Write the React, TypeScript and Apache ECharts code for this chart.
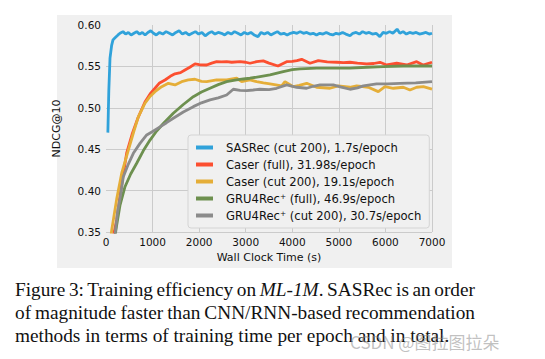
import React, { useEffect, useLayoutEffect, useRef } from "react";
import * as echarts from "echarts";

const seriesNames = [
  "SASRec (cut 200), 1.7s/epoch",
  "Caser (full), 31.98s/epoch",
  "Caser (cut 200), 19.1s/epoch",
  "GRU4Rec\u207A (full), 46.9s/epoch",
  "GRU4Rec\u207A (cut 200), 30.7s/epoch",
];
const colors = ["#30a2da", "#fc4f30", "#e5ae38", "#6d904f", "#8b8b8b"];

const xTicks = [0, 1000, 2000, 3000, 4000, 5000, 6000, 7000];
const yTicks = [0.35, 0.4, 0.45, 0.5, 0.55, 0.6];

const sasrec: number[][] = [
  [40, 0.47], [60, 0.52], [86, 0.56], [120, 0.575], [150, 0.582], [200, 0.585], [258, 0.588], [300, 0.59],
  [365, 0.592], [420, 0.589], [480, 0.591], [540, 0.588], [600, 0.59], [660, 0.592], [720, 0.589], [780, 0.591],
  [840, 0.588], [900, 0.591], [960, 0.593], [1020, 0.59], [1080, 0.588], [1150, 0.591], [1220, 0.589], [1290, 0.592],
  [1360, 0.59], [1430, 0.588], [1500, 0.591], [1570, 0.593], [1640, 0.589], [1710, 0.591], [1780, 0.588], [1850, 0.59],
  [1920, 0.592], [1990, 0.589], [2060, 0.591], [2130, 0.587], [2200, 0.59], [2270, 0.592], [2340, 0.589], [2410, 0.591],
  [2480, 0.59], [2550, 0.588], [2620, 0.591], [2690, 0.589], [2760, 0.592], [2830, 0.59], [2900, 0.588], [2970, 0.591],
  [3040, 0.589], [3110, 0.591], [3180, 0.588], [3264, 0.586], [3330, 0.591], [3400, 0.589], [3470, 0.591], [3540, 0.588],
  [3610, 0.59], [3680, 0.592], [3750, 0.589], [3820, 0.59], [3890, 0.588], [3960, 0.59], [4030, 0.591], [4100, 0.59],
  [4170, 0.592], [4240, 0.59], [4310, 0.591], [4380, 0.589], [4450, 0.59], [4520, 0.588], [4590, 0.59], [4660, 0.589],
  [4730, 0.591], [4800, 0.589], [4870, 0.588], [4940, 0.59], [5010, 0.589], [5080, 0.591], [5150, 0.589], [5240, 0.587],
  [5300, 0.59], [5370, 0.591], [5440, 0.589], [5510, 0.592], [5580, 0.59], [5650, 0.591], [5720, 0.589], [5800, 0.59],
  [5880, 0.586], [5950, 0.591], [6020, 0.59], [6090, 0.592], [6160, 0.59], [6250, 0.595], [6310, 0.59], [6380, 0.592],
  [6450, 0.589], [6520, 0.591], [6590, 0.59], [6660, 0.591], [6730, 0.589], [6800, 0.59], [6870, 0.591], [6940, 0.589],
  [7000, 0.59],
];

const caserFull: number[][] = [
  [140, 0.34], [229, 0.3645], [330, 0.405], [444, 0.4454], [560, 0.468], [687, 0.488], [837, 0.507], [950, 0.517],
  [1052, 0.5236], [1150, 0.53], [1267, 0.5336], [1380, 0.538], [1481, 0.541], [1600, 0.5425], [1696, 0.5457],
  [1800, 0.549], [1911, 0.553], [2000, 0.552], [2162, 0.5517], [2270, 0.554], [2376, 0.5557], [2480, 0.5555],
  [2590, 0.5557], [2700, 0.555], [2877, 0.5557], [3000, 0.555], [3091, 0.5538], [3235, 0.5557], [3377, 0.5566],
  [3500, 0.554], [3693, 0.5505], [3879, 0.5557], [4000, 0.556], [4100, 0.557], [4201, 0.5586], [4380, 0.5538],
  [4559, 0.557], [4750, 0.5555], [4952, 0.555], [5100, 0.5545], [5238, 0.555], [5400, 0.554], [5597, 0.553],
  [5750, 0.5535], [5883, 0.555], [6027, 0.5517], [6242, 0.5538], [6456, 0.5517], [6671, 0.5557], [6807, 0.5517],
  [7000, 0.555],
];

const caserCut: number[][] = [
  [95, 0.34], [122, 0.352], [230, 0.39], [337, 0.421], [480, 0.449], [600, 0.472], [694, 0.489], [837, 0.5055],
  [950, 0.514], [1052, 0.5195], [1196, 0.5255], [1338, 0.5296], [1481, 0.5276], [1625, 0.5316], [1767, 0.5336],
  [1911, 0.5345], [2050, 0.532], [2162, 0.5316], [2376, 0.5336], [2590, 0.5336], [2806, 0.5357], [2913, 0.5316],
  [3091, 0.5336], [3235, 0.5316], [3380, 0.53], [3521, 0.5288], [3772, 0.5264], [3843, 0.5316], [4022, 0.5255],
  [4150, 0.527], [4309, 0.5296], [4523, 0.5248], [4809, 0.5236], [4988, 0.5264], [5238, 0.5248], [5382, 0.5264],
  [5632, 0.5248], [5847, 0.5195], [5990, 0.5255], [6169, 0.5236], [6384, 0.5248], [6527, 0.5215], [6671, 0.5248],
  [6814, 0.5255], [7000, 0.5226],
];

const gruFull: number[][] = [
  [180, 0.34], [229, 0.358], [300, 0.382], [408, 0.4047], [530, 0.42], [659, 0.433], [800, 0.448], [945, 0.461],
  [1088, 0.472], [1231, 0.481], [1445, 0.4934], [1660, 0.504], [1875, 0.5134], [2050, 0.519], [2233, 0.5236],
  [2410, 0.528], [2590, 0.5316], [2770, 0.5335], [2949, 0.5348], [3091, 0.5357], [3306, 0.5377], [3521, 0.5397],
  [3807, 0.5437], [4000, 0.546], [4165, 0.547], [4523, 0.5478], [4900, 0.548], [5238, 0.5478], [5600, 0.549],
  [5954, 0.5497], [6384, 0.5505], [7000, 0.5505],
];

const gruCut: number[][] = [
  [180, 0.34], [250, 0.375], [300, 0.39], [372, 0.4168], [480, 0.432], [587, 0.445], [730, 0.457], [874, 0.4672],
  [1020, 0.472], [1160, 0.477], [1300, 0.482], [1445, 0.4874], [1660, 0.495], [1875, 0.5014], [2050, 0.506],
  [2233, 0.5095], [2410, 0.512], [2590, 0.5155], [2733, 0.5224], [2880, 0.521], [3020, 0.5207], [3160, 0.5215],
  [3306, 0.5224], [3500, 0.522], [3664, 0.5236], [3879, 0.5276], [4094, 0.5248], [4309, 0.5236], [4450, 0.526],
  [4595, 0.5276], [4880, 0.5276], [5050, 0.525], [5238, 0.5224], [5400, 0.524], [5525, 0.5264], [5811, 0.5288],
  [6050, 0.529], [6312, 0.5296], [6650, 0.53], [7000, 0.5316],
];

const allData = [sasrec, caserFull, caserCut, gruFull, gruCut];

const FONT = "DejaVu Sans";
const CAPTION_WIDTH = 460;

function CaptionLine({ children, justify }: { children: React.ReactNode; justify: boolean }) {
  const ref = useRef<HTMLDivElement>(null);
  useLayoutEffect(() => {
    const el = ref.current;
    if (!el || !justify) return;
    el.style.wordSpacing = "0px";
    const w = el.getBoundingClientRect().width;
    const spaces = (el.textContent || "").split(" ").length - 1;
    if (spaces > 0) el.style.wordSpacing = (CAPTION_WIDTH - w) / spaces + "px";
  }, [justify]);
  return (
    <div style={{ height: 23, whiteSpace: "nowrap" }}>
      <span ref={ref} style={{ display: "inline-block", whiteSpace: "nowrap" }}>
        {children}
      </span>
    </div>
  );
}

export default function App() {
  const ref = useRef<HTMLDivElement>(null);
  useEffect(() => {
    if (!ref.current) return;
    const chart = echarts.init(ref.current, null, { renderer: "svg" });
    chart.setOption({
      animation: false,
      backgroundColor: "transparent",
      color: colors,
      grid: { left: 106, right: 113, top: 25, bottom: 127 },
      legend: {
        orient: "vertical",
        left: 188,
        top: 135,
        padding: [6, 8, 6, 8],
        backgroundColor: "#f0f0f0",
        borderColor: "#d4d4d4",
        borderWidth: 1,
        borderRadius: 3,
        itemWidth: 17,
        itemHeight: 4,
        itemGap: 4,
        icon: "rect",
        textStyle: { fontFamily: FONT, fontSize: 11.6, color: "#111", lineHeight: 13, padding: [0, 0, 0, 8] },
        data: seriesNames,
      },
      xAxis: {
        type: "value",
        min: xTicks[0],
        max: xTicks[xTicks.length - 1],
        interval: 1000,
        name: "Wall Clock Time (s)",
        nameLocation: "middle",
        nameGap: 18,
        nameTextStyle: { fontFamily: FONT, fontSize: 11, color: "#111" },
        axisLine: { show: false },
        axisTick: { show: false },
        axisLabel: { fontFamily: FONT, fontSize: 10.5, color: "#111", margin: 4, formatter: (v: number) => String(v) },
        splitLine: { show: true, showMinLine: false, lineStyle: { color: "#cbcbcb", width: 1 } },
      },
      yAxis: {
        type: "value",
        min: yTicks[0],
        max: yTicks[yTicks.length - 1],
        interval: 0.05,
        name: "NDCG@10",
        nameLocation: "middle",
        nameGap: 44,
        nameTextStyle: { fontFamily: FONT, fontSize: 11, color: "#111" },
        axisLine: { show: false },
        axisTick: { show: false },
        axisLabel: {
          fontFamily: FONT,
          fontSize: 10.5,
          color: "#111",
          margin: 5,
          formatter: (v: number) => v.toFixed(2),
        },
        splitLine: { show: true, showMaxLine: false, lineStyle: { color: "#cbcbcb", width: 1 } },
      },
      series: allData.map((d, i) => ({
        name: seriesNames[i],
        type: "line",
        data: d,
        showSymbol: false,
        symbol: "none",
        clip: true,
        lineStyle: { width: 2.8, color: colors[i] },
        itemStyle: { color: colors[i] },
        z: 2,
      })),
    });
    return () => chart.dispose();
  }, []);

  return (
    <div style={{ position: "fixed", left: 0, top: 0, width: 545, height: 359, background: "#fff", overflow: "hidden" }}>
      <div style={{ position: "absolute", left: 57, top: 15, width: 395, height: 253, background: "#f0f0f0" }} />
      <div ref={ref} style={{ position: "absolute", left: 0, top: 0, width: 545, height: 359 }} />
      <div
        style={{
          position: "absolute",
          left: 15,
          top: 278,
          width: 520,
          fontFamily: "'Liberation Serif', serif",
          fontSize: 19.3,
          lineHeight: "23px",
          color: "#111",
        }}
      >
        <CaptionLine justify={true}>
          Figure 3: Training efficiency on <i>ML-1M</i>. SASRec is an order
        </CaptionLine>
        <CaptionLine justify={true}>of magnitude faster than CNN/RNN-based recommendation</CaptionLine>
        <CaptionLine justify={false}>methods in terms of training time per epoch and in total.</CaptionLine>
      </div>
      <div
        style={{
          position: "absolute",
          left: 350,
          top: 329,
          fontFamily: "'Noto Sans CJK SC', 'DejaVu Sans', sans-serif",
          fontSize: 17,
          color: "rgba(140,140,140,0.55)",
          whiteSpace: "nowrap",
        }}
      >
        CSDN @图拉图拉朵
      </div>
    </div>
  );
}
